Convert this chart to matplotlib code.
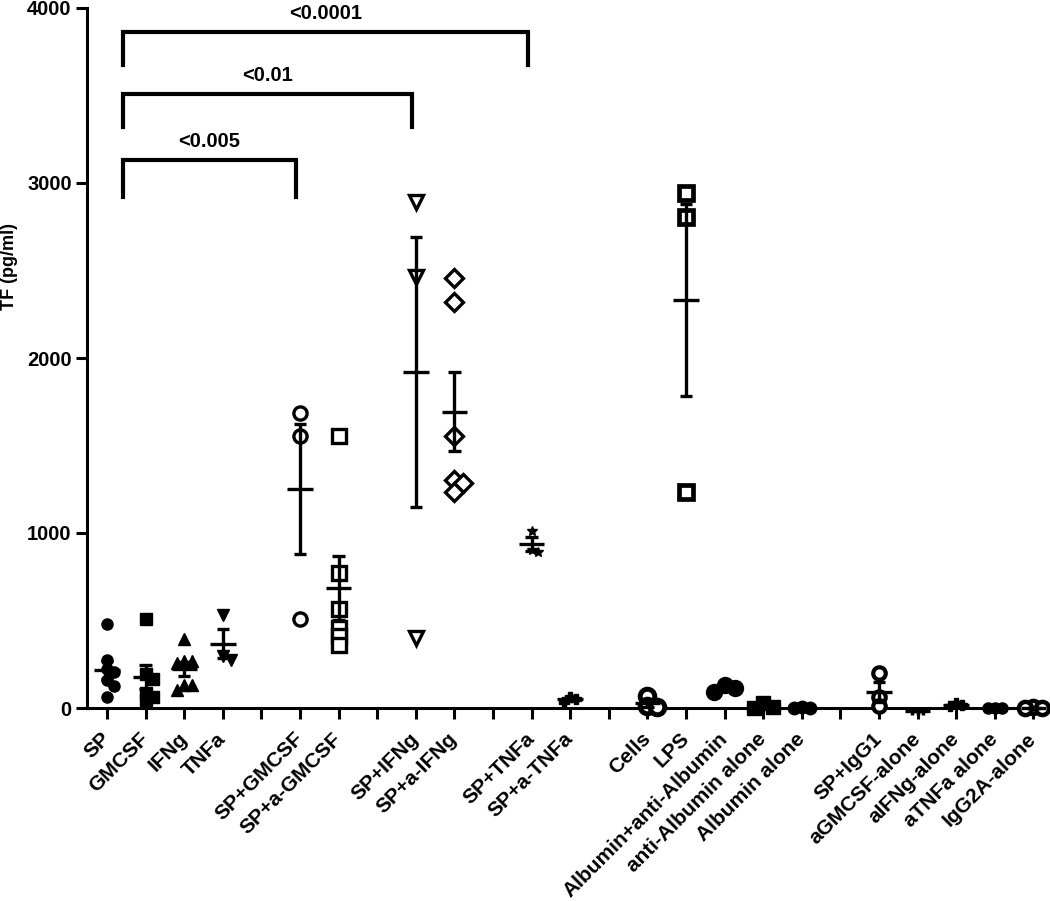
import numpy as np
import matplotlib.pyplot as plt

plt.rcParams['font.family'] = ['Liberation Sans', 'DejaVu Sans']
plt.rcParams['font.weight'] = 'bold'

# group labels along the x axis ('' = empty slot)
labels = ['SP', 'GMCSF', 'IFNg', 'TNFa', '',
          'SP+GMCSF', 'SP+a-GMCSF', '',
          'SP+IFNg', 'SP+a-IFNg', '',
          'SP+TNFa', 'SP+a-TNFa', '',
          'Cells', 'LPS', 'Albumin+anti-Albumin', 'anti-Albumin alone', 'Albumin alone', '',
          'SP+IgG1', 'aGMCSF-alone', 'aIFNg-alone', 'aTNFa alone', 'IgG2A-alone']

# TF (pg/ml) per well
sp = [480, 274, 223, 206, 160, 126, 63]
gmcsf = [509, 194, 166, 86, 63, 46]
ifng = [394, 269, 260, 269, 131, 103, 131]
tnfa = [531, 300, 274]
sp_gmcsf = [1687, 1554, 509]
sp_agmcsf = [1554, 771, 566, 457, 411, 360]
sp_ifng = [2893, 2465, 400]
sp_aifng = [2459, 2320, 1554, 1303, 1286, 1234]
sp_tnfa = [1013, 905, 893]
sp_atnfa = [62, 52, 35]
cells = [69, 10, 5]
lps = [2945, 2808, 1236]
alb_antialb = [131, 114, 90]
antialb = [30, 3, 2]
alb = [3, 2, 1]
sp_igg1 = [200, 65, 10]
agmcsf = [-15, -15, -15]
aifng = [28, 18, 12]
atnfa = [2, 2, 2]
igg2a = [3, 2, 1]

# significance brackets: (from, to, p label)
comparisons = [('SP', 'SP+GMCSF', '<0.005'),
               ('SP', 'SP+IFNg', '<0.01'),
               ('SP', 'SP+TNFa', '<0.0001')]
bracket_y = [3131, 3510, 3863]

# marker, size, face colour, edge width
W = 'white'
K = 'black'
groups = [
    ('SP', sp, 'o', 8, K, 1),
    ('GMCSF', gmcsf, 's', 8, K, 1),
    ('IFNg', ifng, '^', 8.5, K, 1),
    ('TNFa', tnfa, 'v', 8.5, K, 1),
    ('SP+GMCSF', sp_gmcsf, 'o', 9.5, W, 2.4),
    ('SP+a-GMCSF', sp_agmcsf, 's', 9.5, W, 2.4),
    ('SP+IFNg', sp_ifng, 'v', 10, W, 2.4),
    ('SP+a-IFNg', sp_aifng, 'D', 9, W, 2.4),
    ('SP+TNFa', sp_tnfa, '*', 7.5, K, 1),
    ('SP+a-TNFa', sp_atnfa, 'P', 6.5, K, 1),
    ('Cells', cells, 'o', 10.5, W, 3.6),
    ('LPS', lps, 's', 10, W, 3.4),
    ('Albumin+anti-Albumin', alb_antialb, 'o', 11.5, K, 1),
    ('anti-Albumin alone', antialb, 's', 10.5, K, 1),
    ('Albumin alone', alb, 'o', 9, K, 1),
    ('SP+IgG1', sp_igg1, 'o', 9, W, 3.0),
    ('aGMCSF-alone', agmcsf, '|', 6, K, 2.5),
    ('aIFNg-alone', aifng, 'P', 6.5, K, 1),
    ('aTNFa alone', atnfa, 'o', 8, K, 1),
    ('IgG2A-alone', igg2a, 'o', 9.5, W, 3.2),
]

fig = plt.figure(figsize=(10.5, 9.01), dpi=100)
ax = fig.add_axes([87 / 1050, 193 / 901, 961 / 1050, 700 / 901])
ax.set_xlim(-0.52, 24.38)
ax.set_ylim(0, 4000)

pos = {lab: i for i, lab in enumerate(labels) if lab}


def swarm(x0, vals, diam_px):
    # spread overlapping points sideways, done in pixel space
    pts = ax.transData.transform(np.column_stack([np.full(len(vals), x0), vals]))
    order = np.argsort(vals)[::-1]
    placed = []
    out = np.zeros(len(vals))
    step = 0.65 * diam_px
    for i in order:
        px, py = pts[i]
        for k in range(0, 20):
            off = ((k + 1) // 2) * step * (1 if k % 2 else -1) if k else 0.0
            ok = all(np.hypot(px + off - qx, py - qy) >= 0.6 * diam_px for qx, qy in placed)
            if ok:
                break
        placed.append((px + off, py))
        out[i] = ax.transData.inverted().transform((px + off, py))[0]
    return out


for lab, vals, mk, ms, fc, mew in groups:
    x0 = pos[lab]
    vals = np.array(vals, dtype=float)
    xs = swarm(x0, vals, ms * 1.39)
    ax.plot(xs, vals, linestyle='none', marker=mk, markersize=ms,
            markerfacecolor=fc, markeredgecolor=K, markeredgewidth=mew,
            clip_on=False, zorder=3)
    m = vals.mean()
    se = vals.std(ddof=1) / np.sqrt(len(vals))
    lw = 2.4
    ax.plot([x0, x0], [m - se, m + se], color=K, lw=lw, zorder=4, clip_on=False,
            solid_capstyle='butt')
    ax.plot([x0 - 0.16, x0 + 0.16], [m - se, m - se], color=K, lw=lw, zorder=4,
            clip_on=False, solid_capstyle='butt')
    ax.plot([x0 - 0.16, x0 + 0.16], [m + se, m + se], color=K, lw=lw, zorder=4,
            clip_on=False, solid_capstyle='butt')
    ax.plot([x0 - 0.33, x0 + 0.33], [m, m], color=K, lw=lw, zorder=4,
            clip_on=False, solid_capstyle='butt')

# brackets
for (a, b, txt), yb in zip(comparisons, bracket_y):
    xl = pos[a] + 0.4
    xr = pos[b] - 0.1
    drop = 190 if txt != '<0.005' else 210
    ax.plot([xl, xl, xr, xr], [yb - drop, yb, yb, yb - drop], color=K, lw=3,
            solid_joinstyle='miter', clip_on=False)
    ax.text((xl + xr) / 2, yb + 50, txt, ha='center', va='bottom',
            fontsize=14.5, fontweight='bold')

for s in ['top', 'right']:
    ax.spines[s].set_visible(False)
for s in ['left', 'bottom']:
    ax.spines[s].set_linewidth(2.2)

ax.set_yticks([0, 1000, 2000, 3000, 4000])
ax.set_yticklabels(['0', '1000', '2000', '3000', '4000'], fontsize=14.5, fontweight='bold')
ax.set_xticks(range(len(labels)))
ax.set_xticklabels(labels, rotation=45, ha='right', va='center', rotation_mode='anchor',
                   fontsize=15, fontweight='bold')
ax.tick_params(axis='both', direction='out', length=8, width=2.2, pad=3)
ax.tick_params(axis='x', pad=12)

ax.set_ylabel('TF (pg/ml)', fontsize=13, fontweight='bold')
ax.yaxis.set_label_coords(-0.072, 0.63)

fig.savefig('out.png', dpi=100)
